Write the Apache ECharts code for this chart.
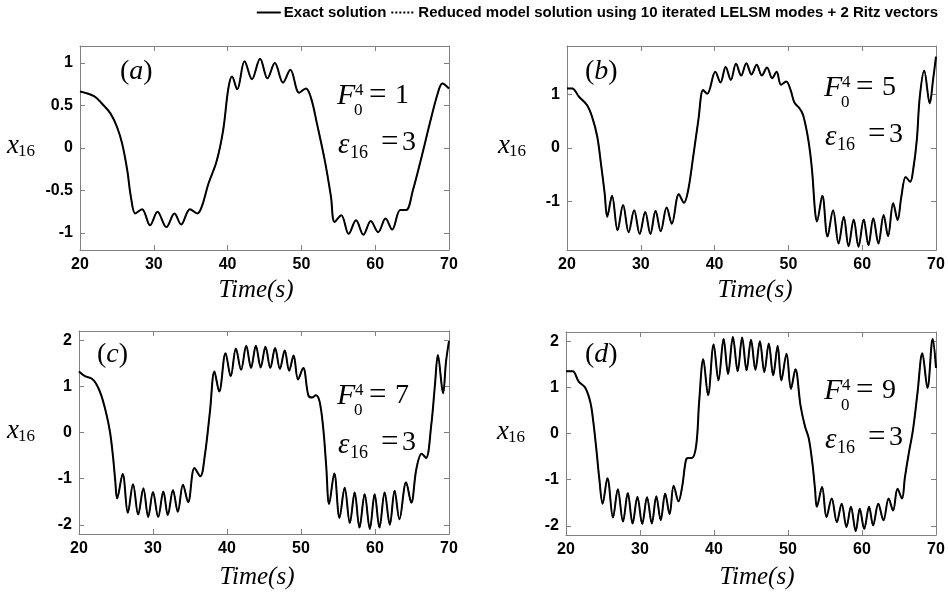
<!DOCTYPE html>
<html><head><meta charset="utf-8">
<script src="https://cdn.jsdelivr.net/npm/echarts@6/dist/echarts.min.js"></script>
<style>html,body{margin:0;padding:0;background:#fff}#c{width:948px;height:597px}</style>
</head><body><div id="c"></div>
<script>
// ---------------- data ----------------
const xMin = 20, xMax = 70, xStep = 10;
const yRangeA = [-1.2, 1.2];
const yRangeB = [-1.9, 1.9];
const yRangeC = [-2.2, 2.2];
const yRangeD = [-2.2, 2.2];
const panelTags = ['a', 'b', 'c', 'd'];
const forceValues = ['1', '5', '7', '9'];
const epsValues = ['3', '3', '3', '3'];
const legendNames = ['Exact solution', 'Reduced model solution using 10 iterated LELSM modes + 2 Ritz vectors'];

// [time (s), x16]
const exactA = [[20,0.665],[21.9,0.61],[23.0,0.52],[24.1,0.41],[25.0,0.25],[25.7,0.055],[26.4,-0.26],[26.9,-0.575],[27.5,-0.77],[28.4,-0.72],[29.5,-0.91],[30.5,-0.75],[31.7,-0.93],[32.8,-0.77],[33.7,-0.90],[34.9,-0.72],[35.9,-0.77],[36.5,-0.69],[37.4,-0.42],[38.5,-0.16],[39.4,0.21],[40.1,0.70],[40.6,0.84],[41.3,0.69],[42.3,1.02],[43.3,0.81],[44.4,1.05],[45.4,0.82],[46.4,1.00],[47.5,0.77],[48.5,0.92],[49.7,0.65],[50.6,0.70],[51.3,0.59],[52.1,0.29],[53.2,-0.16],[54.0,-0.57],[54.5,-0.87],[55.4,-0.79],[56.4,-1.01],[57.4,-0.85],[58.4,-1.02],[59.4,-0.86],[60.4,-0.99],[61.4,-0.83],[62.3,-0.96],[63.4,-0.73],[64.2,-0.73],[65.1,-0.50],[66.3,-0.10],[67.4,0.29],[68.5,0.65],[69.1,0.76],[70,0.70]];
const exactB = [[20,1.11],[20.7,1.11],[21.6,0.96],[22.7,0.80],[23.4,0.58],[24.1,0.21],[24.6,-0.29],[25.1,-0.84],[25.45,-1.28],[26.1,-0.89],[26.85,-1.53],[27.6,-1.06],[28.35,-1.57],[29.1,-1.16],[29.85,-1.60],[30.6,-1.19],[31.3,-1.60],[32.0,-1.17],[32.7,-1.55],[33.5,-1.11],[34.2,-1.41],[35.15,-0.86],[35.85,-1.02],[36.4,-0.80],[37.1,-0.16],[37.8,0.52],[38.45,1.08],[39.0,1.01],[40.1,1.42],[40.8,1.22],[41.5,1.51],[42.2,1.27],[42.9,1.57],[43.6,1.35],[44.3,1.58],[45.0,1.37],[45.7,1.55],[46.4,1.35],[47.1,1.50],[47.8,1.30],[48.4,1.42],[49.0,1.18],[49.7,1.24],[50.3,1.08],[50.8,0.85],[51.5,0.74],[52.0,0.61],[52.7,0.15],[53.2,-0.41],[53.6,-1.16],[53.85,-1.37],[54.6,-0.89],[55.3,-1.65],[56.05,-1.16],[56.8,-1.78],[57.5,-1.28],[58.15,-1.83],[58.85,-1.33],[59.5,-1.84],[60.2,-1.33],[60.85,-1.81],[61.5,-1.31],[62.2,-1.78],[62.9,-1.25],[63.5,-1.64],[64.2,-1.03],[64.8,-1.34],[65.3,-0.91],[65.9,-0.54],[66.5,-0.63],[66.9,-0.41],[67.4,0.15],[67.8,0.95],[68.4,1.44],[69.15,0.83],[69.6,1.27],[70,1.70]];
const exactC = [[20,1.32],[20.8,1.22],[21.7,1.17],[22.3,1.06],[23.0,0.81],[23.7,0.40],[24.2,0.0],[24.6,-0.53],[24.9,-1.05],[25.15,-1.43],[25.9,-0.90],[26.6,-1.74],[27.3,-1.12],[28.0,-1.78],[28.7,-1.21],[29.35,-1.83],[30.0,-1.29],[30.7,-1.83],[31.4,-1.28],[32.0,-1.79],[32.7,-1.25],[33.35,-1.72],[34.05,-1.13],[34.75,-1.51],[35.6,-0.77],[36.4,-0.95],[37.0,-0.50],[37.7,0.46],[38.3,1.32],[38.95,0.89],[39.8,1.72],[40.5,1.22],[41.2,1.82],[41.9,1.36],[42.6,1.88],[43.25,1.40],[43.9,1.88],[44.55,1.41],[45.2,1.86],[45.85,1.40],[46.5,1.83],[47.15,1.38],[47.8,1.78],[48.4,1.34],[49.0,1.67],[49.6,1.15],[50.3,1.40],[51.0,0.80],[51.5,0.76],[52.0,0.81],[52.5,0.68],[53.0,0.10],[53.4,-0.71],[53.8,-1.55],[54.5,-0.89],[55.2,-1.85],[55.9,-1.20],[56.6,-1.96],[57.25,-1.30],[57.9,-2.06],[58.6,-1.34],[59.3,-2.09],[59.95,-1.34],[60.6,-2.06],[61.3,-1.30],[62.0,-2.00],[62.65,-1.26],[63.3,-1.88],[64.2,-1.08],[64.9,-1.52],[65.6,-0.78],[66.3,-0.46],[66.9,-0.55],[67.6,0.16],[68.1,1.03],[68.5,1.68],[69.2,0.85],[69.6,1.54],[70,1.98]];
const exactD = [[20,1.35],[20.9,1.35],[21.7,1.13],[22.6,0.99],[23.3,0.67],[23.7,0.24],[24.1,-0.34],[24.5,-0.98],[24.95,-1.52],[25.6,-0.97],[26.35,-1.82],[27.0,-1.21],[27.7,-1.91],[28.35,-1.29],[29.0,-1.95],[29.65,-1.37],[30.3,-1.96],[30.95,-1.38],[31.6,-1.95],[32.2,-1.36],[32.8,-1.88],[33.4,-1.30],[34.0,-1.75],[34.55,-1.13],[35.2,-1.47],[35.7,-1.15],[36.2,-0.58],[36.5,-0.53],[37.0,-0.53],[37.6,-0.25],[38.0,0.70],[38.55,1.61],[39.2,0.83],[39.95,1.93],[40.6,1.15],[41.3,2.05],[41.9,1.29],[42.55,2.09],[43.2,1.35],[43.8,2.08],[44.4,1.37],[45.0,2.03],[45.6,1.38],[46.2,2.00],[46.8,1.33],[47.4,1.95],[48.0,1.26],[48.6,1.90],[49.1,1.15],[49.8,1.73],[50.4,0.97],[51.0,1.39],[51.7,0.60],[52.3,0.15],[52.8,-0.10],[53.3,-0.65],[53.65,-1.20],[53.9,-1.59],[54.6,-1.16],[55.2,-1.81],[55.9,-1.41],[56.6,-1.92],[57.25,-1.52],[57.9,-2.03],[58.5,-1.59],[59.15,-2.12],[59.7,-1.63],[60.3,-2.07],[60.95,-1.59],[61.5,-1.99],[62.2,-1.52],[62.9,-1.88],[63.6,-1.41],[64.2,-1.67],[64.8,-1.20],[65.4,-1.41],[65.8,-0.95],[66.3,-0.45],[66.9,0.09],[67.5,0.88],[68.15,1.74],[68.85,0.99],[69.55,2.05],[70,1.42]];
// reduced-model curves are indistinguishable from the exact ones at this scale
const reducedA = exactA, reducedB = exactB, reducedC = exactC, reducedD = exactD;

// ---------------- layout ----------------
const exacts = [exactA, exactB, exactC, exactD];
const reduceds = [reducedA, reducedB, reducedC, reducedD];
const yRanges = [yRangeA, yRangeB, yRangeC, yRangeD];
const grids = [
  {left: 80, top: 46, width: 369, height: 204},
  {left: 567, top: 46, width: 369, height: 204},
  {left: 79, top: 331, width: 370, height: 203},
  {left: 566, top: 332, width: 370, height: 203}
];
const SANS = "'Liberation Sans', Arial, Helvetica, sans-serif";
const SERIF = "'Liberation Serif', 'Times New Roman', Times, serif";
const frame = '#808080';

const xAxes = [], yAxes = [], series = [], graphic = [];
grids.forEach((g, i) => {
  const common = {
    gridIndex: i, type: 'value', splitLine: {show: false},
    axisLine: {show: true, onZero: false, lineStyle: {color: frame, width: 1}},
    axisTick: {show: true, inside: true, length: 5, lineStyle: {color: frame, width: 1}}
  };
  const lab = {show: true, color: '#000', fontFamily: SANS, fontWeight: 'bold', fontSize: 16};
  xAxes.push(Object.assign({}, common, {position: 'bottom', min: xMin, max: xMax, interval: xStep,
    axisLabel: Object.assign({}, lab, {margin: 7})}));
  xAxes.push(Object.assign({}, common, {position: 'top', min: xMin, max: xMax, interval: xStep,
    axisLabel: {show: false}}));
  yAxes.push(Object.assign({}, common, {position: 'left', min: yRanges[i][0], max: yRanges[i][1],
    axisLabel: Object.assign({}, lab, {margin: 7, showMinLabel: false, showMaxLabel: false})}));
  yAxes.push(Object.assign({}, common, {position: 'right', min: yRanges[i][0], max: yRanges[i][1],
    axisLabel: {show: false}}));
  series.push({name: legendNames[0], type: 'line', xAxisIndex: 2 * i, yAxisIndex: 2 * i,
    data: exacts[i], showSymbol: false, symbol: 'none', smooth: 0.35, z: 2,
    lineStyle: {color: '#000', width: 2, type: 'solid'}, itemStyle: {color: '#000'}});
  series.push({name: legendNames[1], type: 'line', xAxisIndex: 2 * i, yAxisIndex: 2 * i,
    data: reduceds[i], showSymbol: false, symbol: 'none', smooth: 0.35, z: 3,
    lineStyle: {color: '#000', width: 1.2, type: 'dotted'}, itemStyle: {color: '#000'}});
});

function txt(x, y, text, size, italic, align) {
  graphic.push({type: 'text', silent: true, z: 10,
    style: {x: x, y: y, text: text, fontFamily: SERIF, fontSize: size,
      fontStyle: italic ? 'italic' : 'normal', fill: '#000',
      align: align || 'left', verticalAlign: 'middle'}});
}
const tagPos = [[120, 72], [585, 72], [97, 355], [585, 355]];
const eqPos = [[338, 105], [825, 97], [338, 405], [825, 400]];
const ylabX = [7, 498, 7, 497];
const timeX = [256, 755, 257, 757];
const timeY = [290, 290, 577, 577];
grids.forEach((g, i) => {
  graphic.push({type: 'text', silent: true, z: 10, style: {x: tagPos[i][0], y: tagPos[i][1],
    text: '{p|(}{i|' + panelTags[i] + '}{p|)}', verticalAlign: 'middle', align: 'left',
    rich: {p: {fontFamily: SERIF, fontSize: 28, fill: '#000'},
           i: {fontFamily: SERIF, fontSize: 28, fontStyle: 'italic', fill: '#000'}}}});
  const ax = eqPos[i][0], by = eqPos[i][1];
  txt(ax - 1, by - 9, 'F', 30, true);
  txt(ax + 17, by - 14, '4', 17, false);
  txt(ax + 16, by + 6, '0', 17, false);
  txt(ax + 31, by - 9, '=', 31, false);
  txt(ax + 57, by - 9, forceValues[i], 28, false);
  txt(ax, by + 40, 'ε', 29, true);
  txt(ax + 12, by + 48, '16', 18, false);
  txt(ax + 43, by + 38, '=', 31, false);
  txt(ax + 64, by + 38, epsValues[i], 28, false);
  const cy = g.top + g.height / 2;
  txt(ylabX[i], cy - 2, 'x', 27, true);
  txt(ylabX[i] + 11, cy + 4, '16', 17, false);
  txt(timeX[i], timeY[i], 'Time(s)', 25, true, 'center');
});

const chart = echarts.init(document.getElementById('c'), null, {renderer: 'canvas'});
chart.setOption({
  animation: false,
  backgroundColor: '#fff',
  legend: {
    data: [{name: legendNames[0]}, {name: legendNames[1]}],
    right: 10, top: 5, padding: 0, itemGap: 4, itemWidth: 24, itemHeight: 10,
    itemStyle: {opacity: 0, borderWidth: 0},
    textStyle: {fontFamily: SANS, fontWeight: 'bold', fontSize: 15, color: '#000', padding: [0, 0, 0, -2]}
  },
  grid: grids.map(g => Object.assign({containLabel: false}, g)),
  xAxis: xAxes,
  yAxis: yAxes,
  series: series,
  graphic: graphic
});
</script></body></html>
